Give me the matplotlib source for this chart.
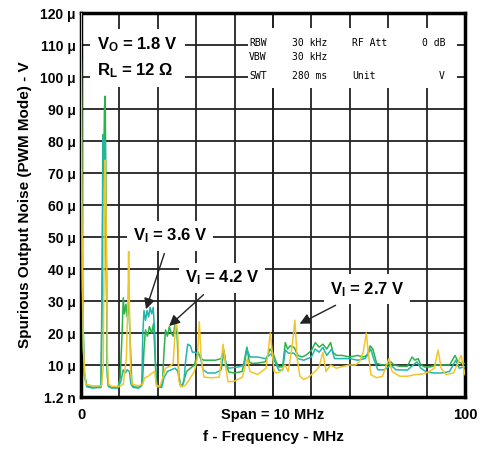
import matplotlib.pyplot as plt
from matplotlib.patches import Rectangle

plt.rcParams['font.family'] = 'Liberation Sans'
plt.rcParams['font.weight'] = 'bold'
plt.rcParams['axes.labelweight'] = 'bold'
plt.rcParams['mathtext.default'] = 'regular'

# frequency axis 0..100 (span = 10 MHz), noise in micro volts
x_42 = [0, 0.3, 0.8, 1.5, 3, 5.2, 5.5, 5.7, 5.9, 6.1, 6.3, 6.5, 6.8, 7.1, 8, 9.6,
        10.2, 10.7, 11.0, 11.3, 11.7, 12.0, 12.4, 12.8, 13.2, 13.6, 15, 16.0, 16.4,
        16.8, 17.3, 17.8, 18.4, 18.9, 19.3, 19.7, 20.5, 21.2, 21.6, 22.0, 22.5, 23.0,
        23.5, 24.0, 24.5, 25.0, 25.4, 25.9, 26.5, 27.5, 28.5, 29.5, 30.5, 31.2, 32.0,
        33, 35, 36.5, 37.2, 37.8, 38.5, 40, 42, 43.2, 43.8, 44.5, 46, 48, 49.2, 50.0,
        50.8, 51.5, 52.5, 53.2, 53.8, 54.5, 55.5, 56.5, 57.5, 58.5, 60, 61, 62, 63,
        64, 65, 65.6, 66.5, 68, 70, 72, 73.5, 74.5, 75.3, 76, 77, 78.5, 80, 80.7,
        81.5, 83, 85, 86.2, 87, 87.8, 88.5, 89.5, 91, 92.5, 94, 96, 97.4, 98.2,
        99.2, 100]
y_42 = [125, 40, 8, 3.5, 3, 3.2, 40, 82, 70, 90, 94, 60, 8, 3.5, 3, 3,
        6, 20, 31, 26, 29, 25, 30, 18, 5, 3.2, 3, 4, 15,
        21, 19, 22, 20, 23, 12, 4, 3, 4, 14, 21, 19, 22,
        20, 19, 23, 20, 8, 3.5, 4, 8, 9, 10, 14, 12, 11.5,
        11.5, 11.5, 12, 14.7, 10, 7.8, 7.5, 8, 15.6, 11, 10.5, 10.6, 11, 15, 13.7,
        11, 9.4, 9.4, 17, 15, 16, 15.5, 13, 12.5, 13, 14.5, 17, 15.6, 16.5,
        15, 17, 14, 13, 13, 12.5, 13, 12.5, 13, 16, 15, 10.5, 10, 10.2, 11,
        10, 9.6, 9.6, 12.5, 11.5, 12, 10, 9.4, 9.4, 10, 10, 10, 13, 11,
        10.5, 10.5]

x_36 = [0, 0.3, 0.8, 1.5, 3, 5.2, 5.5, 5.8, 6.0, 6.3, 6.6, 6.9, 7.2, 8, 9.6,
        10.4, 11.0, 11.5, 12.0, 12.6, 13.0, 13.6, 15, 15.8, 16.1, 16.4, 16.8, 17.2,
        17.6, 18.0, 18.4, 18.8, 19.2, 19.5, 20.0, 21, 21.6, 22.5, 23.5, 24.5, 25.2,
        25.8, 26.3, 26.8, 27.3, 27.8, 28.5, 29.0, 29.7, 30.3, 31, 31.8, 33, 35, 36.5,
        37.2, 37.8, 38.5, 41, 42.5, 43.2, 44.0, 46, 48, 49.5, 50.5, 51.5, 52.5, 53.2,
        54, 55.5, 56.5, 58, 60, 61, 62, 63, 64, 65.3, 66, 68, 70, 72, 74, 75.5,
        76.2, 77.3, 79, 80.7, 82, 85, 86.5, 87.5, 88.5, 90, 92, 94, 96, 97.6, 98.5,
        100]
y_36 = [125, 35, 7, 3.2, 2.8, 3, 30, 82, 72, 80, 40, 6, 3.2, 2.8, 2.8,
        5, 8.5, 7.5, 8.5, 8, 4, 3, 2.8, 3.5, 20, 27, 24, 27,
        25, 28, 26, 28, 20, 5, 3, 3, 6, 8, 8.5, 9, 8,
        4, 3.2, 5, 12, 16.5, 16, 14, 14, 13.5, 13, 8.5, 7.5, 7.5, 8.5,
        14, 10, 9, 9.4, 10, 15, 12.5, 12.5, 12, 13.5, 11, 8.4, 8.4, 14.7,
        13.7, 13.7, 12, 11.5, 12.5, 15, 14, 15.5, 13, 15, 12, 12, 12, 11.5, 12, 15,
        12, 8.5, 8.5, 10, 8.5, 8.4, 10, 11, 9, 7.8, 7.5, 7.5, 8, 11.5, 9,
        9.5]

x_27 = [0, 0.2, 0.6, 1.2, 3, 5.4, 5.8, 6.1, 6.3, 6.6, 6.9, 7.2, 8, 10, 11, 11.8,
        12.1, 12.3, 12.4, 12.6, 12.9, 13.3, 15, 16, 16.6, 17.5, 18.5, 19.2, 19.6,
        20.5, 21.3, 22, 23, 24, 24.7, 25.2, 25.5, 26, 27, 28, 29.5, 30.3, 30.8, 31.3,
        32, 34, 36, 37.0, 37.6, 38.3, 40, 42, 43.3, 44, 46, 48.2, 49.3, 49.8, 50.3,
        51, 52, 53.1, 54, 55, 55.7, 56.3, 57, 58, 59, 60, 61, 62, 63, 63.8, 65,
        66.5, 68, 70, 71.5, 72.5, 73.5, 74.3, 74.8, 75.5, 77, 78.5, 80.2, 81, 83,
        85, 87, 89, 90.5, 92, 93.0, 93.8, 95, 97, 99, 99.5, 100]
y_27 = [125, 60, 15, 4, 3.5, 3.5, 10, 65, 74, 50, 10, 4, 3.3, 3.3, 4, 12,
        25, 36, 50, 30, 8, 4, 3.5, 4, 6, 6.5, 7.5, 8, 3.5,
        3.3, 6, 9, 9.5, 10.5, 24, 20, 5, 3.3, 3.5, 5, 8, 12, 23.5, 12,
        6.2, 6, 6.2, 16.5, 10, 4.7, 5, 6.2, 12, 8, 7, 9, 20, 14, 8,
        7.5, 8, 10, 8, 16, 24, 12, 6.5, 5.5, 6, 7, 8, 9.5, 14, 8, 10,
        9, 9.5, 10, 10, 11, 14, 20, 14, 7, 6, 6.5, 12, 8, 6.5,
        6.5, 7, 7.2, 7.8, 9, 14.7, 9, 7, 7.5, 13, 10, 7]

yticks = list(range(0, 121, 10))
ylabels = ['1.2 n'] + ['%d \u03bc' % v for v in yticks[1:]]

fig = plt.figure(figsize=(4.84, 4.49), dpi=100)
ax = fig.add_axes([0.1674, 0.1158, 0.7933, 0.8552])

ax.plot(x_42, y_42, color='#2db24a', lw=1.1, zorder=3)
ax.plot(x_36, y_36, color='#22b5ad', lw=1.1, zorder=3)
ax.plot(x_27, y_27, color='#f2c62a', lw=1.1, zorder=3)

ax.set_xlim(0, 100)
ax.set_ylim(0, 120)
ax.set_yticks(yticks)
ax.set_yticklabels(ylabels, fontsize=10)
ax.set_xticks([0, 50, 100])
ax.set_xticklabels(['0', 'Span = 10 MHz', '100'], fontsize=10.5)
ax.set_xticks(range(10, 100, 10), minor=True)
ax.xaxis.remove_overlapping_locs = False
ax.tick_params(which='both', length=0)
ax.tick_params(axis='x', pad=8)
ax.tick_params(axis='y', pad=4)
ax.xaxis.grid(True, which='both', color='#222222', lw=1.3)
ax.yaxis.grid(True, which='major', color='#222222', lw=1.3)
ax.set_axisbelow(True)
for s in ax.spines.values():
    s.set_linewidth(2.5)

ax.set_xlabel('f - Frequency - MHz', fontsize=11, labelpad=6)
ax.set_ylabel('Spurious Output Noise (PWM Mode) - V', fontsize=11, labelpad=6)

# condition labels
ax.text(4.2, 106, 'V$_O$ = 1.8 V\nR$_L$ = 12 \u03a9', fontsize=12, ha='left', va='center',
        linespacing=1.5, zorder=5,
        bbox=dict(facecolor='white', edgecolor='none', pad=5))

# analyzer settings block
ax.add_patch(Rectangle((43.5, 96.6), 54.3, 18.7, facecolor='white', edgecolor='none', zorder=2))
mono = dict(family='DejaVu Sans Mono', fontweight='normal', fontsize=7, va='center', zorder=5)
ax.text(43.8, 110.6, 'RBW', **mono)
ax.text(43.8, 106.3, 'VBW', **mono)
ax.text(43.8, 100.2, 'SWT', **mono)
ax.text(55.0, 110.6, '30 kHz', **mono)
ax.text(55.0, 106.3, '30 kHz', **mono)
ax.text(55.0, 100.2, '280 ms', **mono)
ax.text(70.6, 110.6, 'RF Att', **mono)
ax.text(70.6, 100.2, 'Unit', **mono)
ax.text(94.8, 110.6, '0 dB', ha='right', **mono)
ax.text(94.8, 100.2, 'V', ha='right', **mono)

arrow = dict(arrowstyle='-|>', color='#222222', lw=1, mutation_scale=16)
box = dict(facecolor='white', edgecolor='none', pad=4)
ax.annotate('V$_I$ = 3.6 V', xy=(16.7, 26.6), xytext=(23.2, 50.3), fontsize=12,
            ha='center', va='center', zorder=5, bbox=box, arrowprops=arrow)
ax.annotate('V$_I$ = 4.2 V', xy=(22.4, 21.6), xytext=(36.7, 37.2), fontsize=12,
            ha='center', va='center', zorder=5, bbox=box, arrowprops=arrow)
ax.annotate('V$_I$ = 2.7 V', xy=(56.3, 22.5), xytext=(74.5, 33.7), fontsize=12,
            ha='center', va='center', zorder=5, bbox=box, arrowprops=arrow)

fig.savefig('out.png', dpi=100)
